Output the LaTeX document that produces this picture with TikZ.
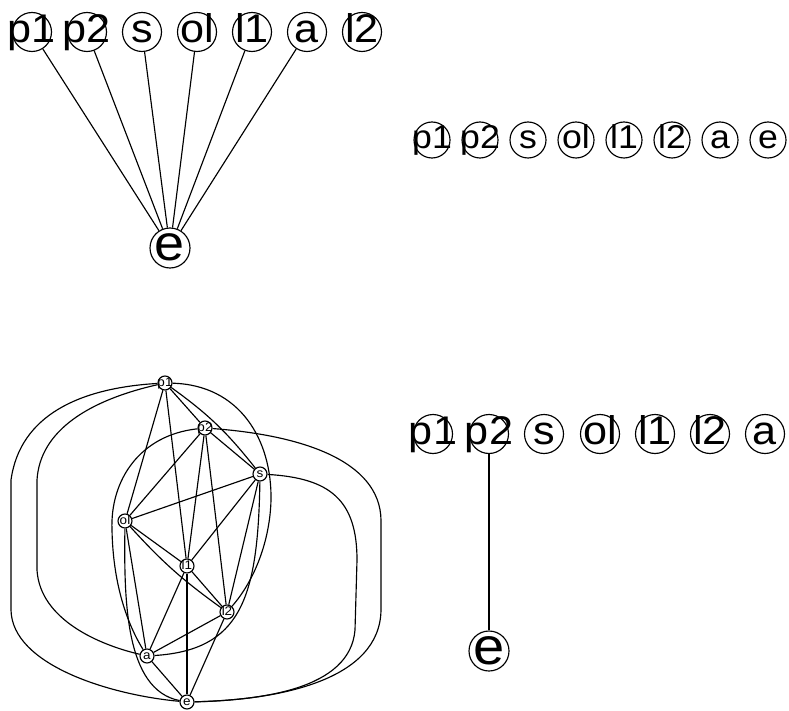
\documentclass[tikz,border=0pt]{standalone}
\usepackage{fontspec}
\setmainfont{Liberation Sans}
\begin{document}
\begin{tikzpicture}[x=1pt,y=-1pt]
\tikzset{
  vtx/.style={circle, draw, line width=1.15pt, inner sep=0pt, minimum size=#1},
  edge/.style={line width=1.15pt},
  lab/.style 2 args={inner sep=0pt, text height=#2, text depth=0pt, xscale=1.08, font=\fontsize{#1}{#1}\selectfont},
  va/.style={vtx=39pt, label={[lab={40}{20.8pt}]center:#1}},
  vae/.style={vtx=40pt, label={[lab={50}{26pt}]center:#1}},
  vb/.style={vtx=36pt, label={[lab={33}{17.2pt}]center:#1}},
  vc/.style={vtx=39pt, label={[lab={40}{20.8pt}]center:#1}},
  vce/.style={vtx=40pt, label={[lab={52}{27pt}]center:#1}},
  vd/.style={vtx=14pt, label={[lab={12.5}{6.5pt}]center:#1}}
}
\useasboundingbox (0,0) rectangle (789,711);
% ---------- panel A (top left)
\node[va=p1] (ap1) at (32,32) {};
\node[va=p2] (ap2) at (87,32) {};
\node[va=s]  (as)  at (142,32) {};
\node[va=ol] (aol) at (197,32) {};
\node[va=l1] (al1) at (252,32) {};
\node[va=a]  (aa)  at (307,32) {};
\node[va=l2] (al2) at (362,32) {};
\node[vae=e] (ae)  at (170,248) {};
\foreach \n in {ap1,ap2,as,aol,al1,aa} \draw[edge] (\n) -- (ae);
% ---------- panel B (top right)
\node[vb=p1] (bp1) at (432,140) {};
\node[vb=p2] (bp2) at (480,140) {};
\node[vb=s]  (bs)  at (528,140) {};
\node[vb=ol] (bol) at (576,140) {};
\node[vb=l1] (bl1) at (624,140) {};
\node[vb=l2] (bl2) at (672,140) {};
\node[vb=a]  (ba)  at (720,140) {};
\node[vb=e]  (be)  at (768,140) {};
% ---------- panel C (bottom right)
\node[vc=p1] (cp1) at (433,434) {};
\node[vc=p2] (cp2) at (489,434) {};
\node[vc=s]  (cs)  at (544,434) {};
\node[vc=ol] (col) at (600,434) {};
\node[vc=l1] (cl1) at (655,434) {};
\node[vc=l2] (cl2) at (710,434) {};
\node[vc=a]  (ca)  at (765,434) {};
\node[vce=e] (ce)  at (489,651) {};
\draw[edge] (cp2) -- (ce);
% ---------- panel D (bottom left)
\node[vd=p1] (dp1) at (165,383) {};
\node[vd=p2] (dp2) at (205,428) {};
\node[vd=s]  (ds)  at (260,474) {};
\node[vd=ol] (dol) at (125,521) {};
\node[vd=l1] (dl1) at (187,566) {};
\node[vd=l2] (dl2) at (227,612) {};
\node[vd=a]  (da)  at (147,656) {};
\node[vd=e]  (de)  at (187,702) {};
\foreach \u/\v in {dp1/dp2, dp1/dol, dp1/dl1, dp2/ds, dp2/dol, dp2/dl1, dp2/dl2,
                   ds/dol, ds/dl1, ds/dl2, dol/dl1, dol/da, dl1/dl2, dl1/da, dl1/de,
                   dl2/da, dl2/de, da/de}
  \draw[edge] (\u) -- (\v);
\draw[edge] (dp1) to[bend left=8] (ds);
\draw[edge] (dol) to[bend right=6] (dl2);
\draw[edge] (dp1) .. controls (80,388) and (20,415) .. (11,480) -- (11,610) .. controls (12,665) and (110,695) .. (de);
\draw[edge] (dp1) .. controls (90,400) and (40,430) .. (37,480) -- (37,570) .. controls (40,620) and (100,645) .. (da);
\draw[edge] (dp2) .. controls (300,435) and (380,460) .. (381,520) -- (381,610) .. controls (380,680) and (280,700) .. (de);
\draw[edge] (ds) .. controls (330,478) and (357,500) .. (357,560) -- (355,630) .. controls (350,690) and (260,700) .. (de);
\draw[edge] (dp1) .. controls (240,385) and (272,440) .. (271,500) .. controls (270,540) and (255,580) .. (dl2);
\draw[edge] (ds) .. controls (258,600) and (240,650) .. (da);
\draw[edge] (dp2) .. controls (140,435) and (110,480) .. (112,530) .. controls (113,580) and (125,620) .. (da);
\draw[edge] (dol) .. controls (124,600) and (125,690) .. (de);
\end{tikzpicture}
\end{document}
